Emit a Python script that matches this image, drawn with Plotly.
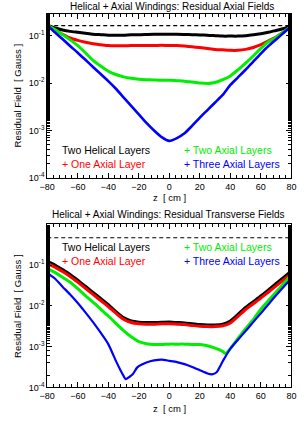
import numpy as np
import plotly.graph_objects as go

# ---------------- data (log10 of residual field in Gauss) ----------------
z_axial = [-80, -75, -70, -65, -60, -55, -50, -45, -40, -35, -30, -25, -20, -15, -10, -5,
           0, 5, 10, 15, 20, 25, 30, 35, 40, 45, 50, 55, 60, 65, 70, 75, 80]

ax_helical = [-0.78, -0.84, -0.88, -0.91, -0.93, -0.95, -0.97, -0.98, -0.99, -0.99, -0.99, -0.98,
              -0.98, -0.975, -0.97, -0.97, -0.97, -0.97, -0.975, -0.98, -0.985, -0.99, -1.0,
              -1.01, -1.01, -1.01, -1.0, -0.98, -0.96, -0.93, -0.89, -0.85, -0.79]
ax_one = [-0.78, -0.88, -0.97, -1.05, -1.10, -1.14, -1.17, -1.19, -1.21, -1.215, -1.215, -1.21,
          -1.21, -1.21, -1.21, -1.205, -1.21, -1.21, -1.22, -1.235, -1.25, -1.27, -1.29, -1.30,
          -1.31, -1.31, -1.29, -1.25, -1.19, -1.11, -1.03, -0.92, -0.80]
ax_two = [-0.78, -0.87, -0.98, -1.09, -1.21, -1.36, -1.52, -1.64, -1.75, -1.82, -1.87, -1.90,
          -1.92, -1.93, -1.935, -1.94, -1.94, -1.95, -1.96, -1.98, -2.0, -2.01, -1.99, -1.93,
          -1.85, -1.72, -1.58, -1.43, -1.27, -1.13, -1.04, -0.92, -0.80]
ax_three = [-0.78, -0.93, -1.07, -1.22, -1.36, -1.51, -1.66, -1.81, -1.96, -2.12, -2.30, -2.48,
            -2.66, -2.84, -3.00, -3.14, -3.22, -3.16, -3.06, -2.90, -2.73, -2.57, -2.41, -2.25,
            -2.04, -1.88, -1.72, -1.55, -1.38, -1.22, -1.08, -0.94, -0.80]
ax_reference = -0.79

z_trans = [-80, -75, -70, -65, -60, -55, -50, -45, -40, -35, -30, -25, -20, -15, -10, -5,
           0, 5, 10, 15, 20, 25, 30, 35, 40, 45, 50, 55, 60, 65, 70, 75, 80]
tr_helical = [-0.905, -1.0, -1.11, -1.23, -1.37, -1.52, -1.67, -1.82, -1.97, -2.14, -2.29, -2.37,
              -2.40, -2.41, -2.41, -2.405, -2.40, -2.41, -2.42, -2.44, -2.46, -2.47, -2.47, -2.45,
              -2.37, -2.21, -2.04, -1.90, -1.76, -1.61, -1.45, -1.30, -1.14]
tr_one = [-0.96, -1.05, -1.16, -1.28, -1.42, -1.57, -1.72, -1.87, -2.02, -2.18, -2.33, -2.41,
          -2.44, -2.45, -2.45, -2.44, -2.44, -2.45, -2.46, -2.48, -2.50, -2.51, -2.51, -2.49,
          -2.42, -2.26, -2.09, -1.95, -1.81, -1.66, -1.51, -1.36, -1.21]

z_trans_two = [-80, -75, -70, -65, -60, -55, -50, -45, -40, -35, -30, -25, -20, -15, -10, -5,
               0, 5, 10, 15, 20, 25, 30, 35, 37, 40, 45, 50, 55, 60, 65, 70, 75, 80]
tr_two = [-1.08, -1.18, -1.30, -1.42, -1.58, -1.75, -1.91, -2.08, -2.25, -2.43, -2.61, -2.76,
          -2.88, -2.93, -2.95, -2.95, -2.94, -2.94, -2.94, -2.95, -2.95, -2.98, -3.04, -3.12,
          -3.17, -3.05, -2.80, -2.56, -2.34, -2.08, -1.87, -1.66, -1.45, -1.24]

z_trans_three = [-80, -75, -70, -65, -60, -55, -50, -45, -40, -35, -32, -30, -28.6, -26, -24,
                 -21, -18, -15, -10, -5, 0, 5, 10, 15, 20, 25, 28, 31, 35, 40, 45, 50, 55, 60,
                 65, 70, 75, 80]
tr_three = [-1.20, -1.33, -1.53, -1.72, -1.93, -2.16, -2.40, -2.66, -2.94, -3.35, -3.58, -3.72,
            -3.80, -3.74, -3.68, -3.51, -3.44, -3.39, -3.34, -3.32, -3.35, -3.38, -3.43, -3.50,
            -3.58, -3.66, -3.68, -3.63, -3.36, -3.05, -2.83, -2.62, -2.40, -2.18, -1.96, -1.74,
            -1.53, -1.33]
tr_reference = -0.33

x_ticks = [-80, -60, -40, -20, 0, 20, 40, 60, 80]
y_tick_exp = [-1, -2, -3, -4]
y_tick_text = ["10<sup>-1</sup>", "10<sup>-2</sup>", "10<sup>-3</sup>", "10<sup>-4</sup>"]

titles = ["Helical + Axial Windings: Residual Axial Fields",
          "Helical + Axial Windings: Residual Transverse Fields"]
legend_labels = ["Two Helical Layers", "+ One Axial Layer", "+ Two Axial Layers",
                 "+ Three Axial Layers"]
colors = ["#000000", "#ff0000", "#00ee00", "#0000ff"]

FONT = "Liberation Sans, Arial, Helvetica, sans-serif"
W, H = 305, 421

def px_x(p):
    return p / W

def px_y(p):
    return 1 - p / H

fig = go.Figure()

def add_series(z, logs, color, xa, ya, width=3.0):
    fig.add_trace(go.Scatter(
        x=z, y=np.power(10.0, np.array(logs)), mode="lines",
        line=dict(color=color, width=width, shape="spline", smoothing=0.6),
        xaxis=xa, yaxis=ya, showlegend=False, hoverinfo="skip"))

# top panel
fig.add_trace(go.Scatter(x=[-80, 80], y=[10 ** ax_reference] * 2, mode="lines",
                         line=dict(color="black", width=1.2, dash="4px,3px"),
                         xaxis="x", yaxis="y", showlegend=False))
add_series(z_axial, ax_helical, colors[0], "x", "y")
add_series(z_axial, ax_one, colors[1], "x", "y")
add_series(z_axial, ax_two, colors[2], "x", "y")
add_series(z_axial, ax_three, colors[3], "x", "y", width=2.6)

# bottom panel
fig.add_trace(go.Scatter(x=[-80, 80], y=[10 ** tr_reference] * 2, mode="lines",
                         line=dict(color="black", width=1.2, dash="4px,3px"),
                         xaxis="x2", yaxis="y2", showlegend=False))
add_series(z_trans, tr_helical, colors[0], "x2", "y2")
add_series(z_trans, tr_one, colors[1], "x2", "y2")
add_series(z_trans_two, tr_two, colors[2], "x2", "y2")
add_series(z_trans_three, tr_three, colors[3], "x2", "y2", width=2.2)

xdom = [px_x(41), px_x(296)]
axis_common = dict(showgrid=False, zeroline=False, showline=True, linecolor="black",
                   linewidth=1, mirror="allticks", ticks="inside", ticklen=5,
                   tickcolor="black", tickfont=dict(family=FONT, size=9, color="black"))

xaxis_cfg = dict(axis_common, range=[-80, 80], tickvals=x_ticks, domain=xdom,
                 minor=dict(dtick=4, ticklen=3, ticks="inside", tickcolor="black"))
yaxis_cfg = dict(axis_common, type="log", tickvals=[10 ** e for e in y_tick_exp],
                 ticktext=y_tick_text,
                 minor=dict(ticklen=3, ticks="inside", tickcolor="black", showgrid=False))

fig.update_layout(
    width=W, height=H, margin=dict(l=0, r=0, t=0, b=0),
    paper_bgcolor="white", plot_bgcolor="white",
    xaxis=dict(xaxis_cfg, anchor="y"),
    yaxis=dict(yaxis_cfg, range=[-4, -0.54], domain=[px_y(180), px_y(14)], anchor="x"),
    xaxis2=dict(xaxis_cfg, anchor="y2"),
    yaxis2=dict(yaxis_cfg, range=[-4, 0], domain=[px_y(392), px_y(227)], anchor="x2"),
)

ann = []
# titles
ann.append(dict(text=titles[0], x=px_x(171), y=px_y(6.5), xref="paper",
                yref="paper", showarrow=False, font=dict(family=FONT, size=10, color="black"),
                xanchor="center", yanchor="middle"))
ann.append(dict(text=titles[1], x=px_x(168), y=px_y(217), xref="paper",
                yref="paper", showarrow=False, font=dict(family=FONT, size=10, color="black"),
                xanchor="center", yanchor="middle"))
# axis titles
for yc in (97, 310):
    ann.append(dict(text="Residual Field  [ Gauss ]", x=px_x(10), y=px_y(yc), xref="paper",
                    yref="paper", showarrow=False, textangle=-90,
                    font=dict(family=FONT, size=9.5, color="black"),
                    xanchor="center", yanchor="middle"))
for yc in (200, 413):
    ann.append(dict(text="z  [ cm ]", x=px_x(169), y=px_y(yc), xref="paper", yref="paper",
                    showarrow=False, font=dict(family=FONT, size=9.5, color="black"),
                    xanchor="center", yanchor="middle"))
# legends
leg_pos_top = [(54, 152), (54, 166), (182, 152), (182, 166)]
leg_pos_bot = [(54, 250), (54, 264), (182, 250), (182, 264)]
for pos_set in (leg_pos_top, leg_pos_bot):
    for (xp, yp), lab, col in zip(pos_set, legend_labels, colors):
        ann.append(dict(text=lab, x=px_x(xp), y=px_y(yp), xref="paper", yref="paper",
                        showarrow=False, font=dict(family=FONT, size=10.5, color=col),
                        xanchor="left", yanchor="middle"))
fig.update_layout(annotations=ann)

fig.write_html("out.html", config={"displayModeBar": False},
               post_script="document.body.style.margin='0px';"
                           "document.body.style.overflow='hidden';")
